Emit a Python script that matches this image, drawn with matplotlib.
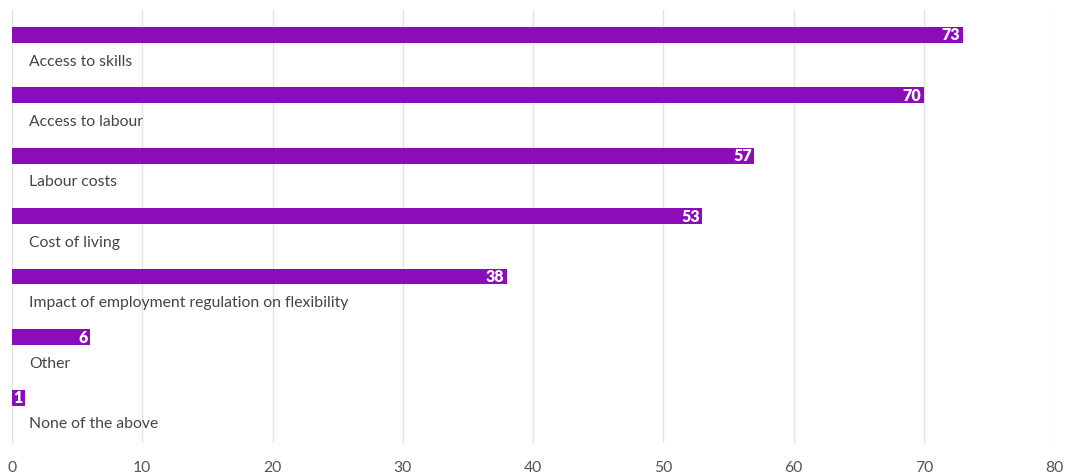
import matplotlib.pyplot as plt

# Data
categories = ["Access to skills", "Access to labour", "Labour costs", "Cost of living",
              "Impact of employment regulation on flexibility", "Other", "None of the above"]
values = [73, 70, 57, 53, 38, 6, 1]
xticks = [0, 10, 20, 30, 40, 50, 60, 70, 80]

plt.rcParams['font.family'] = ['Lato', 'DejaVu Sans']

W, H = 1067, 477
fig = plt.figure(figsize=(W / 100, H / 100), dpi=100)
ax = fig.add_axes([12 / W, 1 - 444 / H, (1054 - 12) / W, (444 - 11) / H])

step = 60.5
top = 35.5
pos = list(range(len(categories)))
bar_h = 16 / step

ax.barh(pos, values, height=bar_h, color="#8a0cba", zorder=2)

for i, (cat, v) in enumerate(zip(categories, values)):
    ax.text(1.3, i + 26 / step, cat, va="center", ha="left", fontsize=11.3, color="#444444")
    ax.text(v - 0.2, i, str(v), va="center", ha="right", fontsize=11.5,
            fontweight="heavy", color="white", zorder=3)

ax.set_xlim(0, 80)
ax.set_ylim((444 - top) / step, (11 - top) / step)
ax.set_xticks(xticks)
ax.set_yticks([])
ax.tick_params(axis="x", length=0, pad=12, labelsize=11.3, labelcolor="#555555")
ax.grid(axis="x", color="#e2e2e2", linewidth=1, zorder=0)
for s in ax.spines.values():
    s.set_visible(False)

fig.savefig("out.png", dpi=100)
